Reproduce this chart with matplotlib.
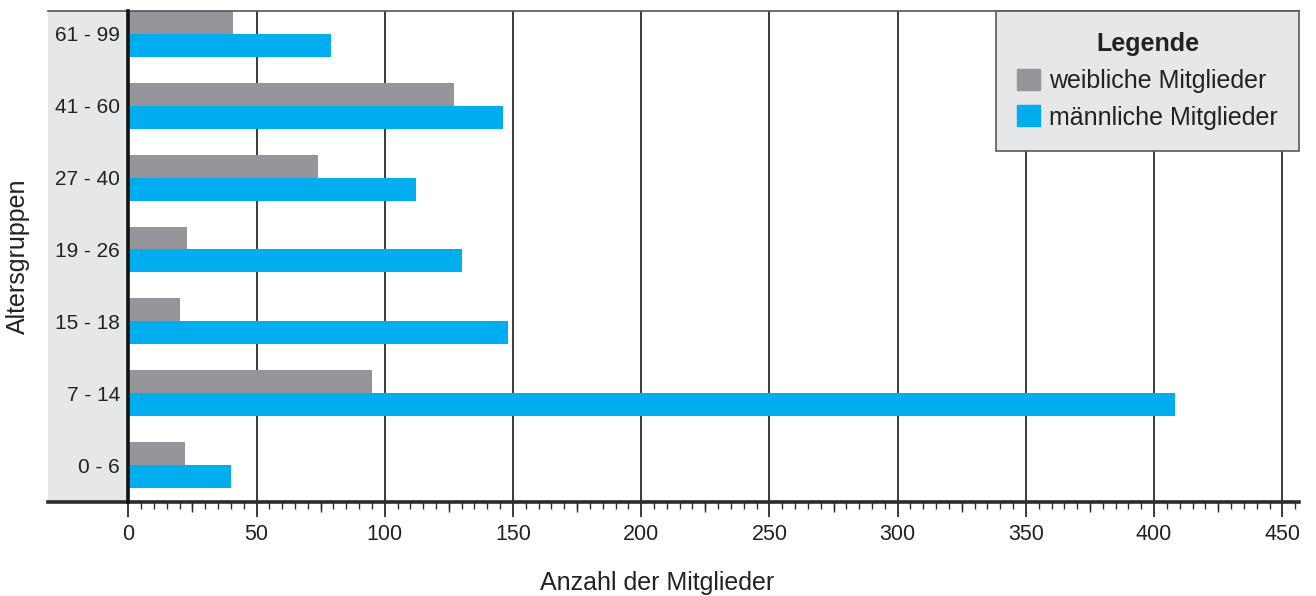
import numpy as np
import matplotlib
matplotlib.use('Agg')
import matplotlib.pyplot as plt
import matplotlib.patches as mpatches
from matplotlib.ticker import FixedLocator

plt.rcParams['font.family'] = ['Liberation Sans', 'DejaVu Sans']

# data, bottom group first
altersgruppen = ['0 - 6', '7 - 14', '15 - 18', '19 - 26', '27 - 40', '41 - 60', '61 - 99']
weiblich = [22, 95, 20, 23, 74, 127, 41]
maennlich = [40, 408, 148, 130, 112, 146, 79]
x_ticks = [0, 50, 100, 150, 200, 250, 300, 350, 400, 450]

GRAU = '#939598'
BLAU = '#00aeef'
PANEL = '#e6e7e8'
DUNKEL = '#2b2b2b'
TEXT = '#222222'

W, H = 1316, 596
fig = plt.figure(figsize=(W / 100, H / 100), dpi=100)
ax = fig.add_axes([48 / W, (H - 502) / H, (1299 - 48) / W, (502 - 11) / H])

# spine position first, it resets the tick setup
ax.spines['left'].set_position(('data', 0))

y = np.arange(len(altersgruppen))
bh = 0.32
ax.barh(y + bh / 2, weiblich, height=bh, color=GRAU, zorder=2)
ax.barh(y - bh / 2, maennlich, height=bh, color=BLAU, zorder=2)

ax.set_ylim(-0.515, 6.32)
ax.set_xlim(-31.3, 456.5)
ax.axvspan(-31.3, 0, color=PANEL, zorder=0, lw=0)

ax.set_yticks(y)
ax.set_yticklabels(altersgruppen, color=TEXT)
ax.tick_params(axis='y', length=0, pad=6, labelsize=15)

ax.set_xticks(x_ticks)
ax.set_xticklabels([str(v) for v in x_ticks], color=TEXT)
ax.xaxis.set_minor_locator(FixedLocator(np.arange(0, 456, 5)))
ax.tick_params(axis='x', which='major', direction='out', length=11, width=1.3,
               color=DUNKEL, pad=5, labelsize=15.5)
ax.tick_params(axis='x', which='minor', direction='out', length=5, width=1.0,
               color=DUNKEL)
ax.grid(axis='x', which='major', color='#3a3a3a', lw=1.4, zorder=1)
ax.set_axisbelow(True)

# medium ticks at the 25s
sec = ax.secondary_xaxis('bottom')
sec.set_xticks([25 + 50 * i for i in range(9)])
sec.tick_params(length=7.5, width=1.0, color=DUNKEL, labelbottom=False)
sec.spines['bottom'].set_visible(False)

ax.spines['left'].set_linewidth(2.6)
ax.spines['left'].set_color('#111111')
ax.spines['left'].set_zorder(3)
ax.spines['bottom'].set_linewidth(2.6)
ax.spines['bottom'].set_color(DUNKEL)
ax.spines['top'].set_linewidth(1.2)
ax.spines['top'].set_color('#555555')
ax.spines['right'].set_visible(False)

ax.set_xlabel('Anzahl der Mitglieder', fontsize=18, color=TEXT)
ax.xaxis.set_label_coords((657 - 48) / 1251, -0.14)
ax.set_ylabel('Altersgruppen', fontsize=18, color=TEXT)
ax.yaxis.set_label_coords((30 - 48) / 1251, 0.5)

handles = [
    mpatches.Patch(color=GRAU, label='weibliche Mitglieder'),
    mpatches.Patch(color=BLAU, label='männliche Mitglieder'),
]
leg = ax.legend(handles=handles, title='Legende', loc='upper right',
                bbox_to_anchor=(1.0, 1.0), fontsize=18, title_fontsize=18,
                frameon=True, fancybox=False, framealpha=1.0,
                facecolor=PANEL, edgecolor='#58595b', borderaxespad=0,
                handlelength=0.92, handleheight=0.92, handletextpad=0.35,
                labelspacing=0.5, borderpad=0.85, labelcolor=TEXT)
leg.get_title().set_fontweight('bold')
leg.get_title().set_color(TEXT)
leg.get_frame().set_linewidth(1.2)
leg.set_zorder(5)

fig.savefig('out.png', dpi=100)
